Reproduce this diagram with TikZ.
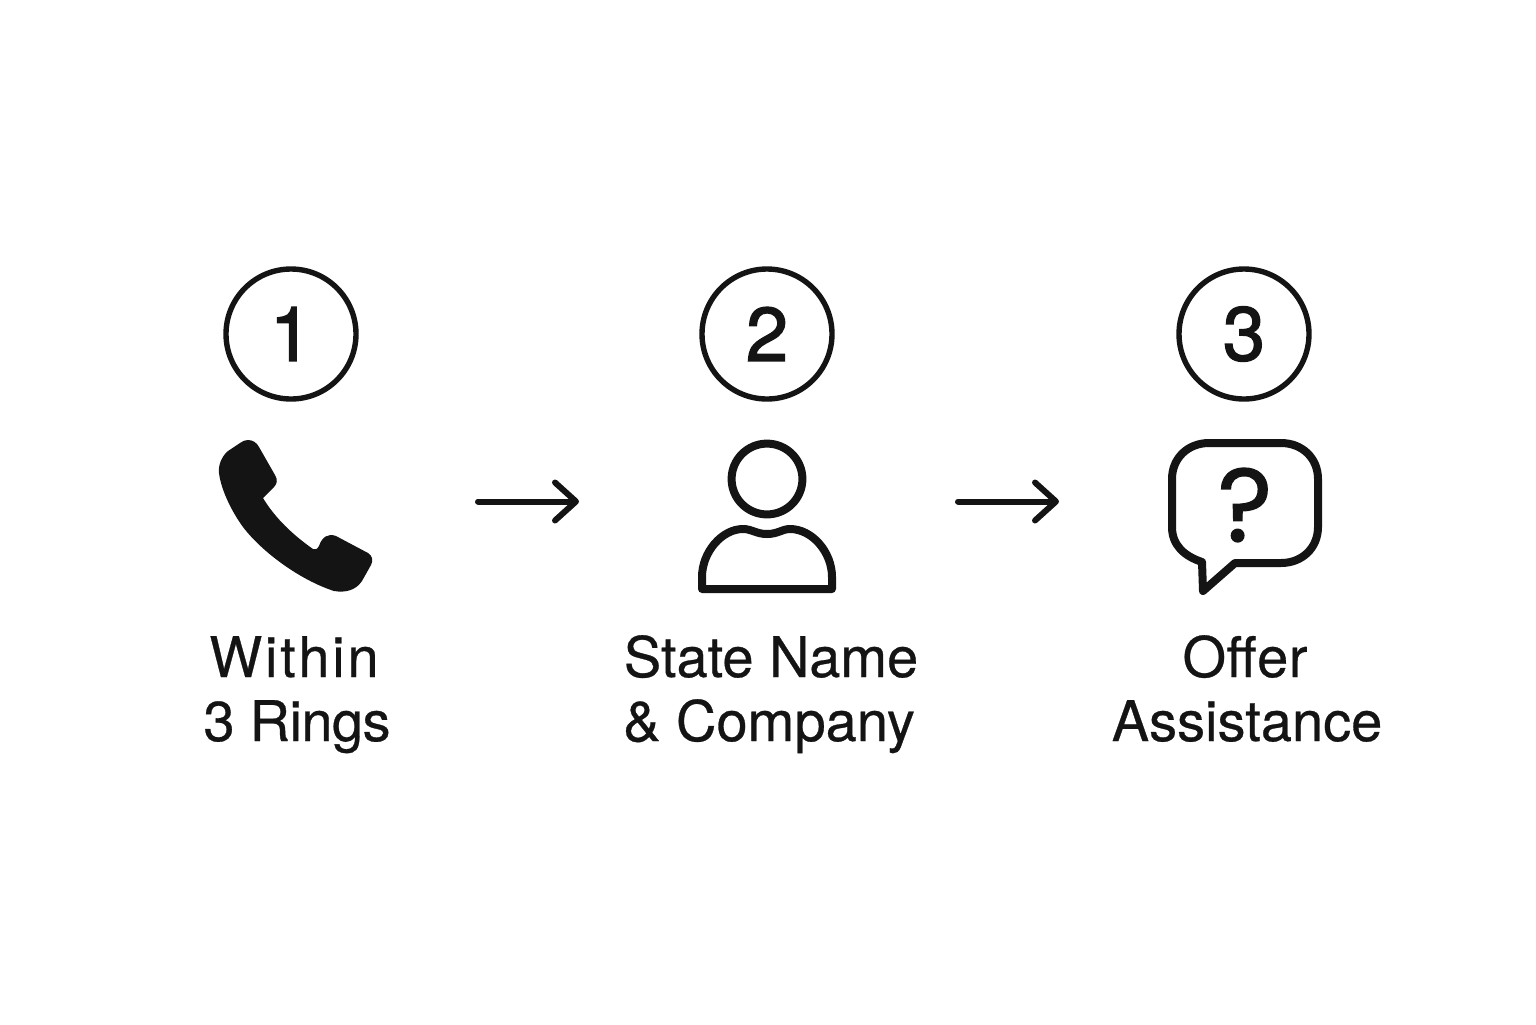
\documentclass[tikz,border=0pt]{standalone}
\usepackage{fontspec}
\setmainfont{TeX Gyre Heros}[FakeBold=0.5]
\newfontfamily\digitfont{TeX Gyre Heros}[FakeBold=1.8]
\newfontfamily\qfont{Poppins}[FakeBold=1.2]
\usetikzlibrary{arrows.meta}
\definecolor{ink}{HTML}{141414}
\tikzset{
 x=0.5pt,y=-0.5pt,
 numring/.style={circle,draw=ink,line width=2.7pt,minimum size=65pt,inner sep=0pt,text=ink,font=\fontsize{38}{38}\digitfont},
 steplabel/.style={align=center,text=ink,font=\fontsize{28}{32}\selectfont,inner sep=0pt},
 icon/.style={draw=ink,line width=4pt,line join=round,line cap=round},
 flowarrow/.style={draw=ink,line width=3pt,line cap=round,-{Straight Barb[round,length=10.5pt,width=19pt,line width=3pt]}},
}
\begin{document}
\begin{tikzpicture}
\useasboundingbox (0,0) rectangle (1536,1024);
\fill[white] (0,0) rectangle (1536,1024);
\node[numring] (n1) at (291,334) {1};
\node[numring] (n2) at (767,334) {2};
\node[numring] (n3) at (1244,334) {3};
\fill[ink] (248,440) .. controls (253,440) and (257,443) .. (259,447)
 -- (275,475) .. controls (278,480) and (277,484) .. (274,487)
 -- (263,498) .. controls (275,518) and (293,535) .. (313,549)
 .. controls (317,550) and (318,548) .. (319,546)
 .. controls (322,537) and (328,533) .. (336,536)
 -- (368,553) .. controls (373,556) and (373,561) .. (371,565)
 -- (362,581) .. controls (356,590) and (346,593) .. (334,591)
 .. controls (300,580) and (262,552) .. (243,527)
 .. controls (232,512) and (221,490) .. (219,473)
 .. controls (218,465) and (222,456) .. (228,451)
 -- (240,443) .. controls (243,441) and (245,440) .. (248,440) -- cycle;
\node[steplabel,anchor=base] (l1a) at (294,677) {\addfontfeature{LetterSpace=5}Within};
\node[steplabel,anchor=base] (l1b) at (297,741) {\addfontfeature{LetterSpace=-1}3 Rings};
\coordinate (a1s) at (478,501.5);
\coordinate (a1e) at (579,501.5);
\draw[flowarrow] (a1s) -- (a1e);
\draw[icon] (767,479) circle (35.4);
\draw[icon] (702,589) -- (832,589) -- (832,577)
 .. controls (832,552) and (812,529) .. (790,529)
 .. controls (782,529) and (778,534) .. (767,534)
 .. controls (756,534) and (752,529) .. (743,529)
 .. controls (722,529) and (702,552) .. (702,577) -- cycle;
\node[steplabel,anchor=base] (l2a) at (771,677) {State Name};
\node[steplabel,anchor=base] (l2b) at (769,741) {\& Company};
\coordinate (a2s) at (958,501.5);
\coordinate (a2e) at (1059,501.5);
\draw[flowarrow] (a2s) -- (a2e);
\draw[icon] (1209,443) -- (1281,443) .. controls (1302,443) and (1318,458) .. (1318,479)
 -- (1318,527) .. controls (1318,548) and (1302,563) .. (1281,563)
 -- (1235,563) -- (1203,591) -- (1202,562)
 .. controls (1184,556) and (1172,545) .. (1172,527)
 -- (1172,479) .. controls (1172,458) and (1188,443) .. (1209,443) -- cycle;
\node[inner sep=0pt,text=ink,font=\fontsize{52}{52}\qfont] (q) at (1245,505) {?};
\node[steplabel,anchor=base] (l3a) at (1245,677) {\addfontfeature{LetterSpace=1}Offer};
\node[steplabel,anchor=base] (l3b) at (1247,741) {Assistance};
\end{tikzpicture}
\end{document}
